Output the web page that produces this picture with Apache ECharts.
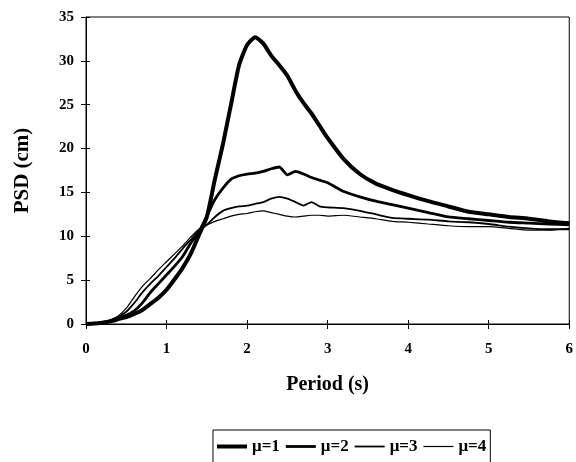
<!DOCTYPE html>
<html><head><meta charset="utf-8">
<script src="https://cdn.jsdelivr.net/npm/echarts@6/dist/echarts.min.js"></script>
<style>html,body{margin:0;padding:0;background:#fff}#c{width:576px;height:462px}</style>
</head><body><div id="c"></div>
<script>
const periods = [0,0.1,0.2,0.3,0.4,0.5,0.6,0.7,0.8,0.9,1.0,1.1,1.2,1.3,1.4,1.5,1.6,1.7,1.8,1.9,2.0,2.1,2.2,2.3,2.4,2.5,2.6,2.7,2.8,2.9,3.0,3.2,3.4,3.6,3.8,4.0,4.25,4.5,4.75,5.0,5.25,5.5,5.75,6.0];
const psdMu1 = [0,0.05,0.15,0.3,0.55,0.8,1.15,1.6,2.3,3.0,3.9,5.1,6.4,8.0,10.1,12.2,16.5,20.5,25.0,29.5,31.8,32.7,32.0,30.6,29.5,28.3,26.6,25.2,24.0,22.6,21.2,18.8,17.1,16.0,15.3,14.7,14.0,13.4,12.8,12.5,12.2,12.0,11.7,11.5];
const psdMu2 = [0,0.05,0.15,0.35,0.7,1.0,1.5,2.4,3.6,4.6,5.6,6.6,7.7,9.2,10.5,12.3,14.2,15.5,16.5,16.9,17.1,17.2,17.4,17.7,17.9,17.0,17.4,17.1,16.7,16.4,16.1,15.1,14.5,14.0,13.6,13.2,12.7,12.2,12.0,11.8,11.6,11.5,11.4,11.3];
const psdMu3 = [0,0.05,0.15,0.4,0.8,1.4,2.4,3.6,4.6,5.5,6.5,7.5,8.6,9.6,10.6,11.3,12.2,12.9,13.2,13.4,13.5,13.7,13.9,14.3,14.5,14.3,13.9,13.5,13.9,13.4,13.3,13.2,12.9,12.5,12.1,12.0,11.9,11.7,11.6,11.4,11.1,10.9,10.8,10.8];
const psdMu4 = [0,0.05,0.2,0.45,0.9,1.8,3.1,4.3,5.2,6.2,7.1,8.0,8.9,9.9,10.8,11.3,11.7,12.0,12.3,12.5,12.6,12.8,12.9,12.7,12.5,12.3,12.2,12.3,12.4,12.4,12.3,12.4,12.2,12.0,11.7,11.6,11.4,11.2,11.1,11.1,10.9,10.7,10.7,10.9];
const seriesNames = ['\u03bc=1','\u03bc=2','\u03bc=3','\u03bc=4'];
const allValues = [psdMu1, psdMu2, psdMu3, psdMu4];
const widths = [4, 2.8, 1.8, 1.2];

const font = 'Liberation Serif';
const tickStyle = {color:'#000',width:1};
const chart = echarts.init(document.getElementById('c'), null, {renderer:'canvas'});
chart.setOption({
  animation:false,
  backgroundColor:'#fff',
  grid:{left:86,right:2,top:17,bottom:138,show:true,borderColor:'#000',borderWidth:1},
  xAxis:[{type:'value',min:0,max:6,interval:1,
    name:'Period (s)',nameLocation:'middle',nameGap:51,
    nameTextStyle:{fontFamily:font,fontSize:20,fontWeight:'bold',color:'#000'},
    axisLine:{lineStyle:{color:'#000',width:1}},
    axisTick:{show:true,length:5,lineStyle:tickStyle},
    axisLabel:{fontFamily:font,fontSize:15,fontWeight:'bold',color:'#000',margin:18},
    splitLine:{show:false}},
   {type:'value',min:0,max:6,interval:1,position:'bottom',
    axisLine:{show:false},axisTick:{show:true,inside:true,length:4,lineStyle:tickStyle},
    axisLabel:{show:false},splitLine:{show:false}}],
  yAxis:[{type:'value',min:0,max:35,interval:5,
    name:'PSD (cm)',nameLocation:'middle',nameGap:53,nameRotate:90,
    nameTextStyle:{fontFamily:font,fontSize:21,fontWeight:'bold',color:'#000'},
    axisLine:{show:true,lineStyle:{color:'#000',width:1}},
    axisTick:{show:true,length:5,lineStyle:tickStyle},
    axisLabel:{fontFamily:font,fontSize:15,fontWeight:'bold',color:'#000',margin:12},
    splitLine:{show:false}},
   {type:'value',min:0,max:35,interval:5,position:'left',
    axisLine:{show:false},axisTick:{show:true,inside:true,length:4,lineStyle:tickStyle},
    axisLabel:{show:false},splitLine:{show:false}}],
  legend:{show:true,left:213,top:430,orient:'horizontal',
    itemWidth:30,itemHeight:10,itemGap:6,
    borderColor:'#000',borderWidth:1,padding:[8,4,14,4],
    textStyle:{fontFamily:font,fontSize:17,fontWeight:'bold',color:'#000'},
    data: seriesNames.map((n,i)=>({name:n,
      icon:'path://M0,0h300v'+Math.round(widths[i]*10)+'h-300z'}))},
  series: seriesNames.map((n,i)=>({
    name:n,type:'line',showSymbol:false,symbol:'none',smooth:0.2,
    xAxisIndex:0,yAxisIndex:0,
    data: periods.map((p,j)=>[p, allValues[i][j]]),
    lineStyle:{color:'#000',width:widths[i]},
    itemStyle:{color:'#000'}
  }))
});
</script></body></html>
